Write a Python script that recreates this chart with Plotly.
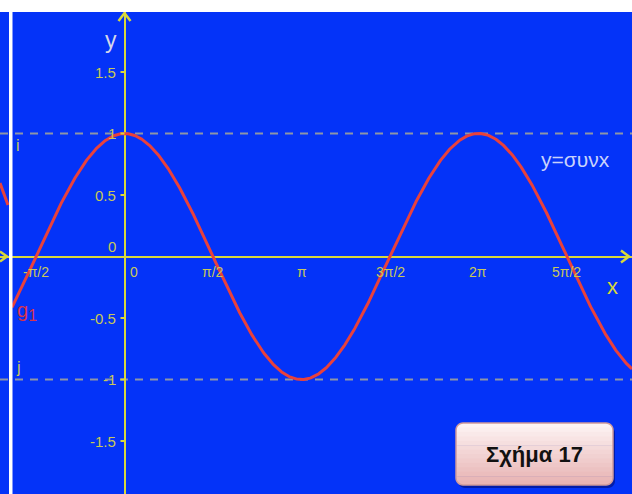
import numpy as np
import plotly.graph_objects as go

# ---------------- data ----------------
x_tick_vals = [-np.pi / 2, 0, np.pi / 2, np.pi, 3 * np.pi / 2, 2 * np.pi, 5 * np.pi / 2]
x_tick_text = ["-π/2", "0", "π/2", "π", "3π/2", "2π", "5π/2"]
y_tick_vals = [1.5, 1, 0.5, 0, -0.5, -1, -1.5]
y_tick_text = ["1.5", "1", "0.5", "0", "-0.5", "-1", "-1.5"]
line_levels = [1, -1]
line_names = ["i", "j"]
function_label = "y=συνx"
curve_name = "g<sub>1</sub>"
button_text = "Σχήμα 17"

# ---------------- geometry (pixel mapping) ----------------
W, H = 632, 494
X0PX, Y0PX, SX, SY = 124.5, 256.5, 56.34, 123.0


def dx(px):
    return (px - X0PX) / SX


def dy(py):
    return (Y0PX - py) / SY


def ppx(px):
    return px / W


def ppy(py):
    return 1 - py / H


XR = [dx(0), dx(W)]
YR = [dy(H), dy(0)]

# the graph y = συν x, drawn over the visible part of the picture
curve_x = np.linspace(dx(12), XR[1], 800)
curve_y = np.cos(curve_x)

BLUE = "#0433f8"
YEL = "#d8d83c"
TICKC = "#c9c957"
RED = "#e8413c"
DASHC = "#8e96a6"
FONT = "Liberation Sans"

fig = go.Figure()
fig.add_trace(go.Scatter(x=curve_x, y=curve_y, mode="lines",
                         line=dict(color=RED, width=3), hoverinfo="skip",
                         showlegend=False))

shapes = []
for lv in line_levels:
    shapes.append(dict(type="line", xref="paper", x0=0, x1=1, yref="y", y0=lv, y1=lv,
                       line=dict(color=DASHC, width=2, dash="8px,7px"), layer="below"))
for v in y_tick_vals:
    if v == 0:
        continue
    shapes.append(dict(type="line", xref="x", xsizemode="pixel", xanchor=0, x0=-4, x1=0,
                       yref="y", y0=v, y1=v, line=dict(color=YEL, width=2)))
shapes.append(dict(type="path", xref="x", yref="y", xsizemode="pixel", ysizemode="pixel",
                   xanchor=0, yanchor=dy(13), path="M -6,-8 L 0,0 L 6,-8",
                   line=dict(color=YEL, width=2.5)))
shapes.append(dict(type="path", xref="x", yref="y", xsizemode="pixel", ysizemode="pixel",
                   xanchor=dx(629), yanchor=0, path="M -8,6 L 0,0 L -8,-6",
                   line=dict(color=YEL, width=2.5)))
shapes.append(dict(type="path", xref="x", yref="y", xsizemode="pixel", ysizemode="pixel",
                   xanchor=dx(7), yanchor=0, path="M -7,5 L 0,0 L -7,-5",
                   line=dict(color=YEL, width=2.5)))
shapes.append(dict(type="line", xref="paper", yref="paper", x0=ppx(0), y0=ppy(183),
                   x1=ppx(8), y1=ppy(205), line=dict(color=RED, width=3)))
shapes.append(dict(type="rect", xref="paper", yref="paper", x0=ppx(9), x1=ppx(12.5),
                   y0=0, y1=1, fillcolor="white", line=dict(width=0), layer="above"))
shapes.append(dict(type="rect", xref="paper", yref="paper", x0=0, x1=1,
                   y0=ppy(12), y1=1, fillcolor="white", line=dict(width=0), layer="above"))

# ---------------- button ----------------
BL, BT, BR, BB, RAD = 456, 423, 613, 485, 7


def rounded_poly(l, t, r, b, rad, n=8):
    pts = []
    corners = [(r - rad, t + rad, -90, 0), (r - rad, b - rad, 0, 90),
               (l + rad, b - rad, 90, 180), (l + rad, t + rad, 180, 270)]
    for cx, cy, a0, a1 in corners:
        for a in np.linspace(np.radians(a0), np.radians(a1), n):
            pts.append((cx + rad * np.cos(a), cy + rad * np.sin(a)))
    return pts


def clip_band(poly, y0, y1):
    def clip(pts, keep, ylim):
        out = []
        for i in range(len(pts)):
            p, q = pts[i], pts[(i + 1) % len(pts)]
            pin, qin = keep(p[1]), keep(q[1])
            if pin:
                out.append(p)
            if pin != qin:
                tt = (ylim - p[1]) / (q[1] - p[1])
                out.append((p[0] + tt * (q[0] - p[0]), ylim))
        return out
    pts = clip(poly, lambda y: y >= y0, y0)
    pts = clip(pts, lambda y: y <= y1, y1)
    return pts


def to_path(pts):
    return "M " + " L ".join(f"{ppx(x):.5f},{ppy(y):.5f}" for x, y in pts) + " Z"


shapes.append(dict(type="path", xref="paper", yref="paper",
                   path=to_path(rounded_poly(BL + 2, BT + 3, BR + 2, BB + 3, RAD)),
                   fillcolor="rgba(0,0,70,0.45)", line=dict(width=0)))
poly = rounded_poly(BL, BT, BR, BB, RAD)
top_c = np.array([253, 243, 243])
bot_c = np.array([232, 180, 180])
nb = 14
for k in range(nb):
    y0 = BT + (BB - BT) * k / nb
    y1 = BT + (BB - BT) * (k + 1) / nb + 0.6
    c = top_c + (bot_c - top_c) * (k / (nb - 1))
    band = clip_band(poly, y0, y1)
    shapes.append(dict(type="path", xref="paper", yref="paper", path=to_path(band),
                       fillcolor=f"rgb({int(c[0])},{int(c[1])},{int(c[2])})",
                       line=dict(width=0)))
shapes.append(dict(type="path", xref="paper", yref="paper", path=to_path(poly),
                   fillcolor="rgba(0,0,0,0)", line=dict(color="#cf9a9a", width=1.5)))

# ---------------- annotations ----------------
ann = []
for v, t in zip(x_tick_vals, x_tick_text):
    ann.append(dict(x=v, y=0, xref="x", yref="y", text=t, showarrow=False,
                    xanchor="center", yanchor="middle", yshift=-15,
                    xshift=9 if v == 0 else 0,
                    font=dict(family=FONT, size=14, color=TICKC)))
for v, t in zip(y_tick_vals, y_tick_text):
    ann.append(dict(x=0, y=v, xref="x", yref="y", text=t, showarrow=False,
                    xanchor="right", yanchor="middle", xshift=-7,
                    yshift=10 if v == 0 else 0,
                    font=dict(family=FONT, size=15, color=TICKC)))
for lv, nm in zip(line_levels, line_names):
    ann.append(dict(x=ppx(18), y=lv, xref="paper", yref="y", text=nm, showarrow=False,
                    xanchor="center", yanchor="middle", yshift=-12 if lv > 0 else 12,
                    font=dict(family=FONT, size=16, color=TICKC)))
ann.append(dict(x=0, y=dy(40), xref="x", yref="y", text="y", showarrow=False,
                xanchor="right", yanchor="middle", xshift=-6,
                font=dict(family=FONT, size=23, color="#d4d6ea")))
ann.append(dict(x=dx(612), y=dy(286), xref="x", yref="y", text="x", showarrow=False,
                xanchor="center", yanchor="middle",
                font=dict(family=FONT, size=22, color=YEL)))
ann.append(dict(x=dx(575), y=dy(159), xref="x", yref="y", text=function_label,
                showarrow=False, xanchor="center", yanchor="middle",
                font=dict(family=FONT, size=21, color="#c9d2fb")))
ann.append(dict(x=ppx(15), y=dy(311), xref="paper", yref="y",
                text="g<sub><span style='font-size:16px'>1</span></sub>",
                showarrow=False, xanchor="left", yanchor="middle",
                font=dict(family=FONT, size=20, color="#d8344a")))
ann.append(dict(x=ppx((BL + BR) / 2), y=ppy((BT + BB) / 2), xref="paper", yref="paper",
                text="<b>" + button_text + "</b>", showarrow=False,
                xanchor="center", yanchor="middle",
                font=dict(family=FONT, size=22, color="#111111")))

axis_common = dict(showgrid=False, zeroline=True, zerolinecolor=YEL, zerolinewidth=2,
                   showticklabels=False, ticks="", showline=False, fixedrange=True)
fig.update_layout(
    width=W, height=H, margin=dict(l=0, r=0, t=0, b=0, pad=0),
    paper_bgcolor="white", plot_bgcolor=BLUE,
    xaxis=dict(range=XR, **axis_common),
    yaxis=dict(range=YR, **axis_common),
    shapes=shapes, annotations=ann, showlegend=False,
)

fig.write_html("out.html", config={"displayModeBar": False},
               post_script="document.body.style.margin='0';document.body.style.overflow='hidden';")
